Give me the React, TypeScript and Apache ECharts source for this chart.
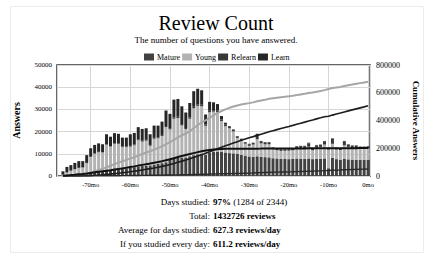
import React, { useEffect, useRef } from "react";
import * as echarts from "echarts";

const SERIF = "'Liberation Serif', 'Times New Roman', Times, serif";

// months relative to today (one bar per month)
const months: number[] = [
  -78,
  -77, -76, -75, -74, -73, -72, -71, -70, -69, -68,
  -67, -66, -65, -64, -63, -62, -61, -60, -59, -58,
  -57, -56, -55, -54, -53, -52, -51, -50, -49, -48,
  -47, -46, -45, -44, -43, -42, -41, -40, -39, -38,
  -37, -36, -35, -34, -33, -32, -31, -30, -29, -28,
  -27, -26, -25, -24, -23, -22, -21, -20, -19, -18,
  -17, -16, -15, -14, -13, -12, -11, -10, -9, -8,
  -7, -6, -5, -4, -3, -2, -1, 0,
];

const mature: number[] = [
  0,
  0, 100, 200, 400, 500, 700, 900, 1200, 1500, 1800,
  2000, 2400, 2600, 2900, 3100, 3200, 3400, 3700, 4000, 4300,
  4500, 4700, 4800, 5200, 5400, 5800, 6200, 7400, 7900, 8200,
  8300, 8400, 8900, 9400, 9800, 10000, 9600, 10600, 10800, 11000,
  10800, 10600, 10300, 10200, 9900, 9500, 9200, 8800, 8700, 8900,
  8600, 8500, 8400, 8000, 7900, 7700, 7800, 7600, 7700, 7900,
  7800, 7700, 7900, 7600, 7800, 7700, 7900, 3500, 8200, 7600,
  7400, 7800, 7500, 7400, 7300, 7200, 7200, 7300,
];

const young: number[] = [
  0,
  600, 1500, 2200, 2650, 3150, 3100, 4900, 7350, 8500, 8900,
  8600, 11650, 10650, 11600, 11300, 9800, 9600, 9550, 9850, 11800,
  11000, 11200, 8850, 11600, 11600, 12250, 15800, 13600, 17900, 17900,
  14500, 12650, 16900, 21100, 21800, 21400, 13000, 18100, 18200, 17700,
  14000, 11900, 11200, 9900, 7250, 6450, 5350, 4800, 5450, 7600,
  6100, 5750, 5900, 4050, 3700, 3600, 3550, 3800, 3900, 4650,
  4800, 4850, 5300, 4050, 5000, 5400, 6250, 8400, 6300, 4350,
  4300, 6050, 5600, 5250, 5300, 5050, 5100, 5050,
];

const relearn: number[] = [
  0,
  0, 0, 0, 50, 50, 100, 100, 150, 200, 200,
  200, 250, 250, 300, 300, 300, 300, 350, 350, 400,
  400, 400, 350, 400, 400, 450, 500, 500, 600, 600,
  600, 550, 600, 700, 700, 700, 600, 700, 700, 700,
  700, 700, 700, 700, 650, 700, 650, 700, 700, 2400,
  1000, 900, 900, 700, 700, 700, 600, 600, 700, 800,
  900, 900, 1500, 700, 1000, 1000, 1500, 800, 2300, 700,
  700, 1800, 1100, 1000, 1000, 900, 900, 1000,
];

const learn: number[] = [
  0,
  1500, 2500, 2500, 2800, 3000, 2800, 3500, 3800, 3800, 3800,
  3500, 4500, 4200, 4500, 4300, 4000, 4000, 5200, 5200, 5500,
  5300, 5200, 4800, 5500, 5300, 6000, 7000, 6500, 8000, 8000,
  8000, 7000, 6500, 7000, 7000, 6500, 4500, 4000, 3500, 3000,
  1500, 800, 300, 200, 200, 150, 100, 200, 150, 100,
  100, 150, 100, 150, 200, 100, 150, 100, 200, 150,
  100, 150, 300, 150, 200, 100, 150, 100, 200, 150,
  100, 150, 100, 150, 200, 150, 100, 150,
];

const seriesNames: string[] = ["Mature", "Young", "Relearn", "Learn"];
const xTickMonths: number[] = [-70, -60, -50, -40, -30, -20, -10, 0];

const titleText = "Review Count";
const subtitleText = "The number of questions you have answered.";
const statLabels: string[] = [
  "Days studied:",
  "Total:",
  "Average for days studied:",
  "If you studied every day:",
];
const statValues: string[] = [
  "{b|97%} (1284 of 2344)",
  "{b|1432726 reviews}",
  "{b|627.3 reviews/day}",
  "{b|611.2 reviews/day}",
];

const barColors = ["#424242", "#b3b3b3", "#383838", "#262626"];
const lineColors = ["#1c1c1c", "#a6a6a6", "#2a2a2a", "#111111"];
const lineWidths = [1.6, 2, 1.4, 2];

const cumulative = (arr: number[]) => {
  let s = 0;
  return arr.map((v) => (s += v));
};

export default function App() {
  const ref = useRef<HTMLDivElement>(null);

  useEffect(() => {
    if (!ref.current) return;
    const chart = echarts.init(ref.current, undefined, { renderer: "svg" });
    const values = [mature, young, relearn, learn];
    const cats = months.map((m) => String(m));

    const barSeries = values.map((arr, k) => ({
      name: seriesNames[k],
      type: "bar",
      stack: "reps",
      barWidth: 3,
      xAxisIndex: 0,
      yAxisIndex: 0,
      itemStyle: { color: barColors[k] },
      z: 2,
      data: arr,
    }));

    const lineSeries = values.map((arr, k) => ({
      name: seriesNames[k] + " cumulative",
      type: "line",
      xAxisIndex: 0,
      yAxisIndex: 1,
      showSymbol: false,
      lineStyle: { color: lineColors[k], width: lineWidths[k] },
      itemStyle: { color: lineColors[k] },
      z: 5,
      data: cumulative(arr).map((v, i) => (i === 0 ? null : v)),
    }));

    const statGraphics: any[] = [];
    const rowY = [201.5, 215.5, 229.5, 243.5];
    statLabels.forEach((lab, i) => {
      statGraphics.push({
        type: "text",
        x: 210,
        y: rowY[i],
        style: {
          text: lab,
          align: "right",
          verticalAlign: "middle",
          fontSize: 9,
          fontFamily: SERIF,
          fill: "#000",
        },
      });
      statGraphics.push({
        type: "text",
        x: 213,
        y: rowY[i],
        style: {
          text: statValues[i],
          align: "left",
          verticalAlign: "middle",
          fontSize: 9,
          fontFamily: SERIF,
          fill: "#000",
          rich: { b: { fontWeight: "bold", fontSize: 9, fontFamily: SERIF } },
        },
      });
    });

    chart.setOption({
      animation: false,
      backgroundColor: "#fff",
      graphic: [
        {
          type: "rect",
          shape: { x: 10.5, y: 6.5, width: 413, height: 246 },
          style: { fill: "none", stroke: "#ececec", lineWidth: 1 },
          silent: true,
        },
        {
          type: "text",
          x: 216,
          y: 22.5,
          style: {
            text: titleText,
            align: "center",
            verticalAlign: "middle",
            fontSize: 20,
            fontFamily: SERIF,
            fill: "#000",
          },
        },
        {
          type: "text",
          x: 216,
          y: 39.5,
          style: {
            text: subtitleText,
            align: "center",
            verticalAlign: "middle",
            fontSize: 9,
            fontFamily: SERIF,
            fill: "#000",
          },
        },
        ...statGraphics,
      ],
      legend: {
        data: seriesNames,
        left: 144,
        top: 53,
        padding: 0,
        itemWidth: 10,
        itemHeight: 7,
        itemGap: 2,
        icon: "rect",
        textStyle: { fontSize: 8, fontFamily: SERIF, color: "#000", padding: [0, 0, 0, -2] },
      },
      grid: {
        left: 57,
        right: 56,
        top: 65,
        height: 111,
        show: true,
        borderColor: "#333",
        borderWidth: 1.5,
        backgroundColor: "#fff",
        z: 0,
      },
      xAxis: [
        {
          type: "category",
          data: cats,
          boundaryGap: true,
          position: "top",
          show: false,
        },
        {
          type: "value",
          position: "bottom",
          min: -78.5,
          max: 0.5,
          splitNumber: 8,
          axisLine: { show: false },
          axisTick: { show: false },
          splitLine: { show: true, lineStyle: { color: "#d6d6d6", width: 1 } },
          axisLabel: {
            margin: 5,
            fontSize: 6.5,
            fontFamily: SERIF,
            color: "#000",
            formatter: (v: number) => (xTickMonths.indexOf(v) >= 0 ? `${v}mo` : ""),
          },
        },
      ],
      yAxis: [
        {
          type: "value",
          position: "left",
          min: 0,
          max: 50000,
          interval: 10000,
          axisLine: { show: false },
          axisTick: { show: false },
          splitLine: { show: true, lineStyle: { color: "#d6d6d6", width: 1 } },
          axisLabel: {
            margin: 5,
            fontSize: 7,
            fontFamily: SERIF,
            color: "#000",
            formatter: (v: number) => String(v),
          },
          name: "Answers",
          nameLocation: "middle",
          nameRotate: 90,
          nameGap: 36,
          nameTextStyle: { fontSize: 10, fontWeight: "bold", fontFamily: SERIF, color: "#000" },
        },
        {
          type: "value",
          position: "right",
          min: 0,
          max: 800000,
          interval: 200000,
          axisLine: { show: false },
          axisTick: { show: false },
          splitLine: { show: false },
          axisLabel: {
            margin: 6,
            fontSize: 8,
            fontFamily: SERIF,
            color: "#000",
            formatter: (v: number) => String(v),
          },
          name: "Cumulative Answers",
          nameLocation: "middle",
          nameRotate: -90,
          nameGap: 38,
          nameTextStyle: { fontSize: 9, fontWeight: "bold", fontFamily: SERIF, color: "#000" },
        },
      ],
      series: [...barSeries, ...lineSeries],
    });

    return () => chart.dispose();
  }, []);

  return (
    <div
      ref={ref}
      style={{ position: "absolute", left: 0, top: 0, width: 428, height: 254, background: "#fff" }}
    />
  );
}
